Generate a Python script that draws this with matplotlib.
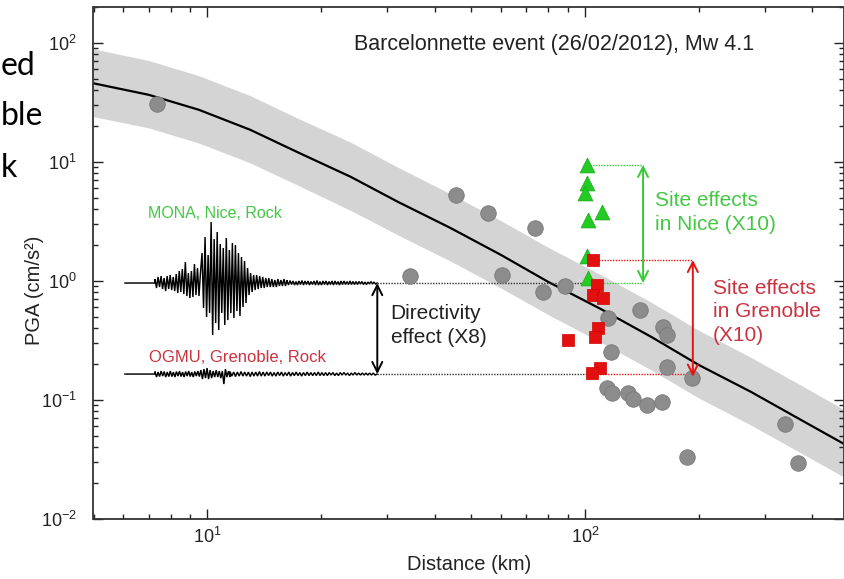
import numpy as np
import matplotlib
matplotlib.use("Agg")
import matplotlib.pyplot as plt
from matplotlib.ticker import LogLocator, NullFormatter

plt.rcParams.update({
    "font.family": "Liberation Sans",
    "mathtext.fontset": "custom",
    "mathtext.rm": "Liberation Sans",
    "mathtext.default": "regular",
})

# --- data ---
# GMPE median and +/- sigma band
gmpe_dist = [5, 7, 9.5, 13, 17.5, 24, 32, 44, 60, 80, 110, 150, 200, 275, 370, 485]
gmpe_med = [45.7, 36.6, 27.4, 18.6, 11.9, 7.48, 4.61, 2.79, 1.65, 0.98, 0.582, 0.338,
            0.197, 0.117, 0.069, 0.0427]
gmpe_up = [89, 71, 53, 36, 23, 14.6, 9.0, 5.4, 3.2, 1.91, 1.13, 0.66, 0.385, 0.228, 0.135,
           0.083]
gmpe_lo = [24, 19.3, 14.4, 9.8, 6.3, 3.9, 2.43, 1.47, 0.87, 0.52, 0.306, 0.178, 0.104,
           0.0615, 0.0364, 0.0225]

# recorded PGA, gray stations
gray_dist = [7.35, 34.4, 45.7, 55.4, 60.2, 73.7, 77.5, 88.5, 115.3, 139.9, 161.2, 164.6,
             117, 164.6, 191.8, 114.6, 117.7, 130.3, 134.3, 146.3, 159.7, 338.9, 186, 365.3]
gray_pga = [30.7, 1.10, 5.28, 3.71, 1.12, 2.77, 0.80, 0.908, 0.486, 0.570, 0.413, 0.352,
            0.255, 0.190, 0.152, 0.125, 0.114, 0.115, 0.101, 0.0908, 0.0968, 0.0628, 0.033,
            0.0294]
# Nice stations (green) and Grenoble stations (red)
nice_dist = [101, 101, 100, 110.7, 102, 101, 102]
nice_pga = [9.43, 6.6, 5.46, 3.82, 3.26, 1.62, 1.05]
gren_dist = [105.2, 107.4, 105.2, 111.8, 108.5, 106.3, 90.3, 109.6, 104.2]
gren_pga = [1.50, 0.925, 0.763, 0.716, 0.40, 0.34, 0.319, 0.184, 0.167]

# reference levels of the annotations
mona_level = 0.96
ogmu_level = 0.165
nice_top = 9.43
gren_top = 1.50

# seismogram peaks (relative amplitude, alternating half cycles)
mona_burst = [4, -5, 6, -4, 7, -6, 5, -8, 7, -6, 8, -7, 6, -8, 9,
              -10, 12, -9, 14, -11, 21, -13, 10, -15, 12, -14, 19, -12, 15, -13, 11,
              30, -25, 46, -34, 28, -30, 61, -52, 44, -40, 51, -47, 39, -30, 35, -42, 45,
              -37, 33, -30, 40,
              -35, 38, -28, 30, -33, 26, -24, 22, -20, 15, -12, 10, -9, 8,
              -7, 8, -6, 7, -5, 6, -5, 5, -4, 5, -4, 4, -4, 3, -4, 4, -3, 3, -3, 4, -3, 3]
mona_coda = [2, -2, 2.5, -1.5, 2, -2, 1.5, -2, 2, -1.5, 2.5, -2, 2, -1.5, 2, -2, 1.5, -1.5,
             2, -2, 2.5, -2, 1.5, -2, 2, -1.5, 2, -2, 1.5, -1.5, 2, -2, 2, -1.5, 1.5, -2,
             2, -1.5, 2, -1.5, 1.5, -1.5, 2, -1.5, 1.5, -1.5, 1.5, -1.5, 1.5, -1, 1.5,
             -1.5, 1, -1.5, 1, -1, 1.5, -1, 1, -1, 0]
ogmu_early = [2.5, -3, 2, -2.5, 3, -2, 2.5, -3, 2, -2.5, 3, -2.5, 2, -3, 2.5, -2, 3, -2.5,
              2, -3, 2.5, -2, 3, -2.5, 2, -3, 2.5, -2, 3, -2.5,
              4, -5, 5, -4, 6, -5, 4, -4, 3, -3, 4, -3, 3, -4, 3, -10, 5, -3, 3, -3]
ogmu_late = [2.5, -2, 2, -2.5, 2, -2, 2.5, -2, 2, -2, 2, -2.5, 2, -2, 2, -2, 2.5, -2, 2,
             -2, 2, -1.5, 2, -2, 1.5, -2, 2, -1.5, 2, -2, 1.5, -1.5, 2, -2, 1.5, -1.5, 2,
             -1.5, 1.5, -2, 1.5, -1.5, 2, -1.5, 1.5, -1.5, 1.5, -1.5, 2, -1.5, 1.5, -1.5,
             1.5, -1.5, 1.5, -1, 1.5, -1.5, 1, -1.5, 1.5, -1, 1.5, -1, 1, -1.5, 1, -1,
             1.5, -1, 1, -1, 1, -1, 1, -1, 1, -1, 1, -1, 0]

# fragments of the slide text left of the chart
slide_words = ["ed", "ble", "k"]

GREEN = "#33cc33"
GREEN_TXT = "#44c844"
RED = "#e31414"
RED_TXT = "#cc3340"
W, H = 845, 579

fig = plt.figure(figsize=(W / 100, H / 100), dpi=100)
ax = fig.add_axes([93.5 / W, 1 - 519 / H, (844 - 93.5) / W, (519 - 7) / H])
ax.set_xscale("log")
ax.set_yscale("log")
ax.set_xlim(5, 485)
ax.set_ylim(0.01, 200)

ax.fill_between(gmpe_dist, gmpe_lo, gmpe_up, color="#d4d4d4", lw=0, zorder=1)
ax.plot(gmpe_dist, gmpe_med, color="black", lw=1.6, zorder=2)

# dotted reference lines
dot = dict(ls=(0, (1, 1)), lw=1.0, zorder=2)
ax.plot([28.2, 101], [mona_level] * 2, color="#333333", **dot)
ax.plot([101, 142.5], [mona_level] * 2, color=GREEN, **dot)
ax.plot([101, 142.5], [nice_top] * 2, color=GREEN, **dot)
ax.plot([28.2, 104], [ogmu_level] * 2, color="#333333", **dot)
ax.plot([104, 193], [ogmu_level] * 2, color=RED, **dot)
ax.plot([105, 193], [gren_top] * 2, color=RED, **dot)

ax.scatter(gray_dist, gray_pga, s=125, color="#8c8c8c", edgecolors="#7a7a7a",
           linewidths=0.6, zorder=3)
ax.scatter(nice_dist, nice_pga, s=115, marker="^", color="#22cc22", edgecolors="#1aa81a",
           linewidths=0.5, zorder=4)
ax.scatter(gren_dist, gren_pga, s=78, marker="s", color="#e31010", edgecolors="#d00000",
           linewidths=0.5, zorder=5)

# double arrows
arr = dict(arrowstyle="<->", lw=1.4, mutation_scale=18, shrinkA=0, shrinkB=0)
ax.annotate("", xy=(142.5, nice_top), xytext=(142.5, mona_level),
            arrowprops=dict(color=GREEN, **arr), zorder=6)
ax.annotate("", xy=(193, gren_top), xytext=(193, ogmu_level * 0.95),
            arrowprops=dict(color=RED, **arr), zorder=6)
ax.annotate("", xy=(28.2, mona_level), xytext=(28.2, ogmu_level),
            arrowprops=dict(color="black", **arr), zorder=6)

# annotation texts
ax.text(0.6136, 0.926, "Barcelonnette event (26/02/2012), Mw 4.1", transform=ax.transAxes,
        ha="center", va="center", fontsize=15.5, color="#222222")
ax.text(153, 3.76, "Site effects\nin Nice (X10)", fontsize=15, color=GREEN_TXT,
        ha="left", va="center", linespacing=1.3)
ax.text(218, 0.55, "Site effects\nin Grenoble\n(X10)", fontsize=15, color=RED_TXT,
        ha="left", va="center", linespacing=1.3)
ax.text(30.6, 0.423, "Directivity\neffect (X8)", fontsize=15, color="#222222",
        ha="left", va="center", linespacing=1.3)
ax.text(6.95, 3.69, "MONA, Nice, Rock", fontsize=11.5, color=GREEN_TXT, ha="left",
        va="center")
ax.text(7.03, 0.2275, "OGMU, Grenoble, Rock", fontsize=12, color=RED_TXT, ha="left",
        va="center")

# ticks
ax.tick_params(which="both", direction="in", top=True, right=True, width=1.0,
               labelsize=13, colors="#222222")
ax.tick_params(which="major", length=7)
ax.tick_params(which="minor", length=3.5)
ax.tick_params(axis="y", which="major", pad=12)
ax.tick_params(axis="x", which="major", pad=6)
ax.xaxis.set_minor_locator(LogLocator(base=10, subs=np.arange(2, 10), numticks=20))
ax.yaxis.set_minor_locator(LogLocator(base=10, subs=np.arange(2, 10), numticks=20))
ax.xaxis.set_minor_formatter(NullFormatter())
ax.yaxis.set_minor_formatter(NullFormatter())
for sp in ax.spines.values():
    sp.set_linewidth(1.3)
    sp.set_color("#333333")

fig.text(469 / W, 1 - 565 / H, "Distance (km)", ha="center", va="center", fontsize=14.5,
         color="#222222")
fig.text(35 / W, 1 - 290 / H, "PGA (cm/s²)", ha="center", va="center", fontsize=14.5,
         rotation=90, color="#222222")

# seismograms in an overlay axes: x in pixels, y in log10(PGA)
sx = fig.add_axes([120 / W, 1 - 519 / H, 260 / W, (519 - 7) / H], zorder=7)
sx.set_xlim(120, 380)
sx.set_ylim(np.log10(0.01), np.log10(200))
sx.axis("off")
px = 1 / 119.0
for level, early, late, mid in [(mona_level, mona_burst, mona_coda, 287),
                                (ogmu_level, ogmu_early, ogmu_late, 230)]:
    b = np.log10(level)
    t1 = np.linspace(155, mid, len(early))
    t2 = np.linspace(mid, 377, len(late))
    t = np.concatenate([[125, 155], t1, t2])
    a = np.concatenate([[0, 0], np.array(early) * px, np.array(late) * px])
    sx.plot(t, b + a, color="black", lw=1.05, solid_joinstyle="miter")

# slide text peeking from the left
for s, yb in zip(slide_words, [75, 125, 177]):
    fig.text(1 / W, 1 - yb / H, s, ha="left", va="baseline", fontsize=23,
             family="Lato", color="black")

fig.savefig("out.png", dpi=100)
